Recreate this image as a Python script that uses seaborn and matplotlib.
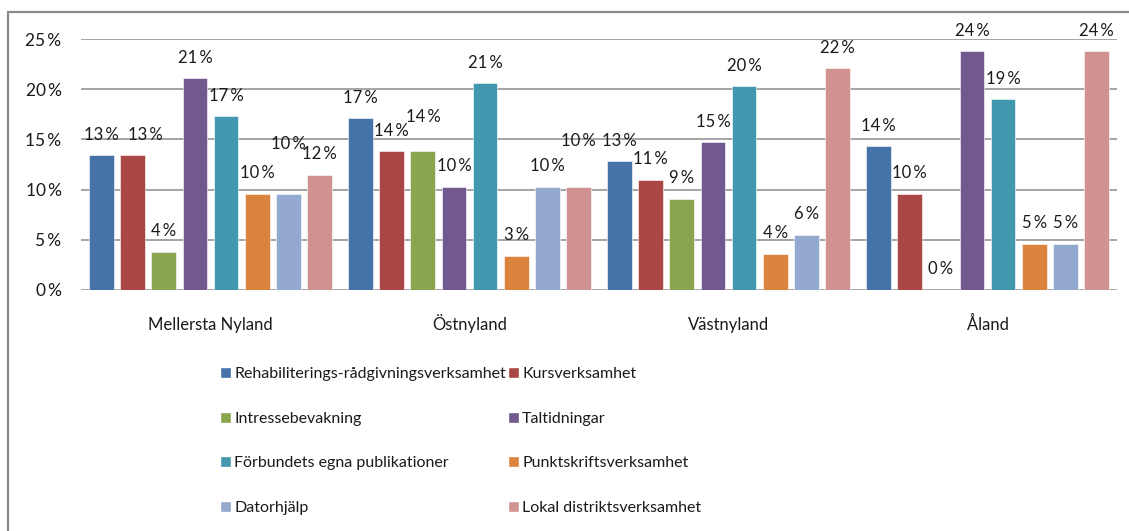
import pandas as pd
import seaborn as sns
import matplotlib.pyplot as plt
from matplotlib.patches import Patch, Rectangle

# ---------------------------------------------------------
# Data
# ---------------------------------------------------------
regions = ["Mellersta Nyland", "Östnyland", "Västnyland", "Åland"]
activities = [
    "Rehabiliterings-rådgivningsverksamhet",
    "Kursverksamhet",
    "Intressebevakning",
    "Taltidningar",
    "Förbundets egna publikationer",
    "Punktskriftsverksamhet",
    "Datorhjälp",
    "Lokal distriktsverksamhet",
]
# share (%) per activity, one value per region
rehab = [13.4, 17.1, 12.8, 14.3]
kurs = [13.4, 13.8, 11.0, 9.6]
intresse = [3.8, 13.8, 9.1, 0.0]
taltid = [21.1, 10.3, 14.7, 23.8]
publik = [17.3, 20.6, 20.3, 19.0]
punkt = [9.6, 3.4, 3.6, 4.6]
dator = [9.6, 10.3, 5.5, 4.6]
lokal = [11.5, 10.3, 22.1, 23.8]

colors = ["#4572A7", "#AA4643", "#89A54E", "#71588F",
          "#4198AF", "#DB843D", "#93A9CF", "#D19392"]

series = [rehab, kurs, intresse, taltid, publik, punkt, dator, lokal]
rows = []
for act, vals in zip(activities, series):
    for reg, v in zip(regions, vals):
        rows.append({"region": reg, "activity": act, "value": v})
df = pd.DataFrame(rows)

# labels the original chart moved so they don't collide (dx, dy in points)
nudged = {("Mellersta Nyland", 1): (9, 0), ("Mellersta Nyland", 6): (0, 21),
          ("Östnyland", 2): (0, 10), ("Östnyland", 7): (0, 18)}

# ---------------------------------------------------------
# Plot
# ---------------------------------------------------------
sns.set_style("white")
plt.rcParams["font.family"] = ["Lato", "DejaVu Sans"]
fs = 11.5
txt = "#1a1a1a"
sp = "\u2009"  # thin space between number and %

fig = plt.figure(figsize=(11.29, 5.31), dpi=100)
ax = fig.add_axes([81 / 1129, 1 - 290 / 531, 1036 / 1129, 251 / 531])

sns.barplot(data=df, x="region", y="value", hue="activity",
            hue_order=activities, palette=colors, width=0.96, gap=0.2,
            saturation=1, legend=False, ax=ax,
            edgecolor="white", linewidth=0.4)

for k, cont in enumerate(ax.containers):
    for j, bar in enumerate(cont):
        h = bar.get_height()
        dx, dy = nudged.get((regions[j], k), (0, 0))
        ax.annotate(f"{h:.0f}{sp}%", (bar.get_x() + bar.get_width() / 2, h),
                    xytext=(dx, 9 + dy), textcoords="offset points",
                    ha="center", va="bottom", fontsize=fs + 0.5, color=txt)

ax.set_ylim(0, 25)
ax.set_xlim(-0.5, 3.5)
ax.set_yticks(range(0, 26, 5))
ax.set_yticklabels([f"{v}{sp}%" for v in range(0, 26, 5)])
ax.yaxis.grid(True, color="#8c8c8c", linewidth=1.1)
ax.set_axisbelow(True)
for s in ax.spines.values():
    s.set_visible(False)
ax.tick_params(axis="y", length=0, pad=14, labelsize=fs + 1, labelcolor=txt)
ax.tick_params(axis="x", length=0, pad=29, labelsize=fs + 0.5, labelcolor=txt)
for lab in ax.get_xticklabels():
    lab.set_verticalalignment("baseline")
ax.set_xlabel("")
ax.set_ylabel("")

# legend: two columns, filled row by row
order = [0, 2, 4, 6, 1, 3, 5, 7]
handles = [Patch(facecolor=colors[i], label=activities[i]) for i in order]
fig.legend(handles=handles, ncol=2, loc="upper left",
           bbox_to_anchor=(220 / 1129, 1 - 367 / 531), frameon=False,
           fontsize=fs, handlelength=0.7, handleheight=0.7,
           handletextpad=0.2, columnspacing=0.1, labelspacing=1.9,
           borderpad=0, borderaxespad=0, labelcolor=txt)

# outer chart frame (right and bottom edges fall outside the picture)
fig.patches.append(Rectangle((8 / 1129, -0.1), 1.2, 1.1 - 12 / 531,
                             transform=fig.transFigure, fill=False,
                             edgecolor="#8a8a8a", linewidth=1.6))

fig.savefig("out.png", dpi=100)
